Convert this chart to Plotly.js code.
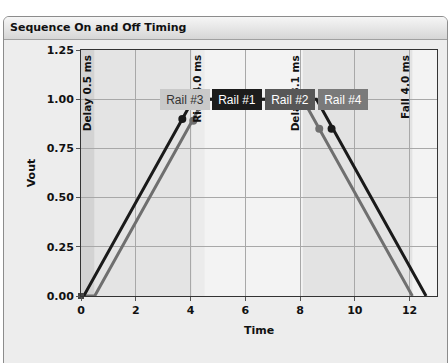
<!DOCTYPE html>
<html>
<head>
<meta charset="utf-8">
<script src="https://cdn.plot.ly/plotly-3.0.1.min.js"></script>
<style>
  html, body { margin:0; padding:0; background:#ffffff; width:448px; height:363px; overflow:hidden; }
  #frame { position:absolute; left:3px; top:16px; width:445px; height:370px; border:1px solid #8c8c8c;
           border-radius:6px 6px 0 0; background:#ededed; box-sizing:border-box; }
  #bar { position:absolute; left:0; top:0; right:0; height:22px; border-radius:5px 5px 0 0;
         background:linear-gradient(#f6f6f6, #d6d6d6); border-bottom:1px solid #a0a0a0; }
  #chart { position:absolute; left:0; top:0; width:448px; height:363px; }
</style>
</head>
<body>
<div id="frame"><div id="bar"></div></div>
<div id="chart"></div>
<script>
// ---- data ----
const rail1Time = [0, 0.1, 4.1, 8.6, 12.6];
const rail1Vout = [0, 0, 1.0, 1.0, 0];
const rail2Time = [0, 0.5, 4.5, 8.1, 12.1];
const rail2Vout = [0, 0, 1.0, 1.0, 0];
const rail1MarkTime = [3.7, 9.15];
const rail1MarkVout = [0.90, 0.85];
const rail2MarkTime = [4.1, 8.7];
const rail2MarkVout = [0.89, 0.85];
const startTime = [0];
const startVout = [0];
const phaseStart = [0, 0.5, 4.5, 8.1];
const phaseEnd = [0.5, 4.5, 8.1, 12.1];
const phaseLabels = ["Delay 0.5 ms", "Rise 4.0 ms", "Delay 8.1 ms", "Fall 4.0 ms"];
const railNames = ["Rail #3", "Rail #1", "Rail #2", "Rail #4"];
const railLabelTime = [3.8, 5.71, 7.65, 9.56];
const railLabelVout = [1.0, 1.0, 1.0, 1.0];
const xTicks = [0, 2, 4, 6, 8, 10, 12];
const yTicks = [0, 0.25, 0.5, 0.75, 1.0, 1.25];

// ---- styles ----
const phaseFill = ["#d3d3d3", "#e4e4e4", "rgba(0,0,0,0)", "#e3e3e3"];
const railBg = ["#c9c9c9", "#1c1c1c", "#575757", "#7a7a7a"];
const railFg = ["#333333", "#ffffff", "#ffffff", "#ffffff"];

const traces = [
  {x: rail2Time, y: rail2Vout, mode: 'lines', line: {color: '#6f6f6f', width: 3}, hoverinfo: 'skip'},
  {x: rail1Time, y: rail1Vout, mode: 'lines', line: {color: '#1a1a1a', width: 3}, hoverinfo: 'skip'},
  {x: rail2MarkTime, y: rail2MarkVout, mode: 'markers', marker: {color: '#6f6f6f', size: 8}},
  {x: rail1MarkTime, y: rail1MarkVout, mode: 'markers', marker: {color: '#1a1a1a', size: 8}},
  {x: startTime, y: startVout, mode: 'markers', marker: {color: '#444444', size: 6, symbol: 'square'}, cliponaxis: false}
];

const shapes = phaseStart.map((s, i) => ({
  type: 'rect', xref: 'x', yref: 'paper', x0: s, x1: phaseEnd[i], y0: 0, y1: 1,
  fillcolor: phaseFill[i], line: {width: 0}, layer: 'below'
}));
// light strip at end of rise
shapes.push({type: 'rect', xref: 'x', yref: 'paper', x0: 4.05, x1: 4.5, y0: 0, y1: 1,
  fillcolor: '#ebebeb', line: {width: 0}, layer: 'below'});

const annotations = [];
phaseLabels.forEach((t, i) => {
  annotations.push({
    x: phaseEnd[i] - 0.27, y: 1.235, xref: 'x', yref: 'y', text: t, textangle: -90,
    showarrow: false, xanchor: 'center', yanchor: 'top',
    font: {family: 'DejaVu Sans', size: 10.5, color: '#111', weight: 'bold'}
  });
});
railNames.forEach((t, i) => {
  annotations.push({
    x: railLabelTime[i], y: railLabelVout[i], xref: 'x', yref: 'y', text: t,
    showarrow: false, xanchor: 'center', yanchor: 'middle',
    width: 44, height: 15, borderpad: 2, borderwidth: 1,
    bgcolor: railBg[i], bordercolor: railBg[i],
    font: {family: 'Liberation Sans, Arial', size: 12, color: railFg[i]}
  });
});

const axisFont = {family: 'DejaVu Sans', size: 11, color: '#111', weight: 'bold'};

const layout = {
  width: 448, height: 363,
  margin: {l: 81, r: 11, t: 50, b: 67, pad: 0},
  paper_bgcolor: 'rgba(0,0,0,0)',
  plot_bgcolor: '#f3f3f3',
  showlegend: false,
  title: {text: 'Sequence On and Off Timing', x: 10/448, xref: 'container', xanchor: 'left',
          y: 1 - 27/363, yref: 'container', yanchor: 'middle',
          font: {family: 'DejaVu Sans', size: 11, color: '#111', weight: 'bold'}},
  xaxis: {range: [0, 13.0], tickvals: xTicks, ticktext: xTicks.map(String),
          showgrid: true, gridcolor: '#a8a8a8', gridwidth: 1, zeroline: false,
          showline: true, linecolor: '#333', linewidth: 1, mirror: true,
          ticks: 'outside', ticklen: 4, tickcolor: '#555', tickfont: axisFont,
          title: {text: 'Time', font: axisFont, standoff: 10}, fixedrange: true},
  yaxis: {range: [0, 1.25], tickvals: yTicks, ticktext: yTicks.map(v => v.toFixed(2)),
          showgrid: true, gridcolor: '#a8a8a8', gridwidth: 1, zeroline: false,
          showline: true, linecolor: '#333', linewidth: 1, mirror: true,
          ticks: 'outside', ticklen: 4, tickcolor: '#555', tickfont: axisFont,
          title: {text: 'Vout', font: axisFont, standoff: 8}, fixedrange: true},
  shapes: shapes,
  annotations: annotations
};

Plotly.newPlot('chart', traces, layout, {displayModeBar: false, staticPlot: true});
</script>
</body>
</html>
